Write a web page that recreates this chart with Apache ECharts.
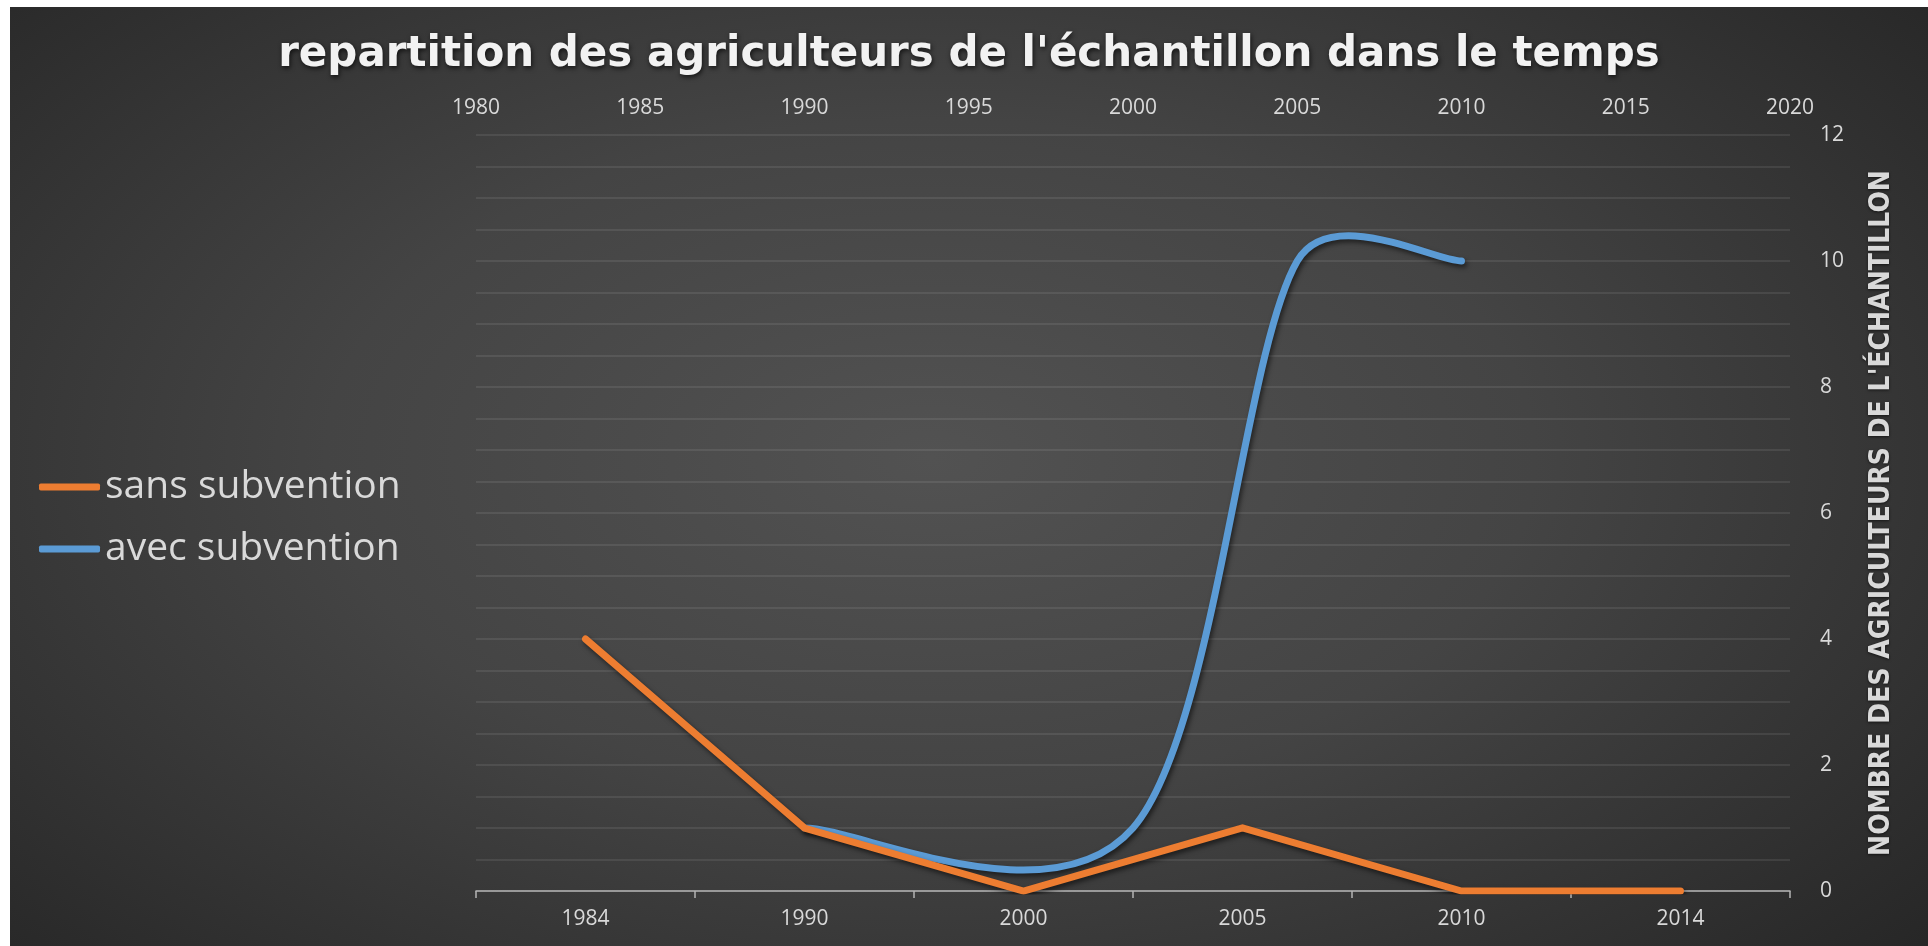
<!DOCTYPE html>
<html><head><meta charset="utf-8">
<script src="https://cdn.jsdelivr.net/npm/echarts@6/dist/echarts.min.js"></script>
<style>
html,body{margin:0;padding:0;background:#ffffff;width:1928px;height:946px;overflow:hidden;}
#chart{position:absolute;left:10px;top:7px;width:1918px;height:939px;
background:radial-gradient(ellipse 70% 80% at 48% 48%, #525252 0%, #444444 45%, #2e2e2e 85%, #262626 100%);}
</style></head><body><div id="chart"></div>
<script>
// ---- data ----
var titleText = "repartition des agriculteurs de l'échantillon dans le temps";
var yAxisName = "NOMBRE DES AGRICULTEURS DE L'ÉCHANTILLON";
var categories = ['1984', '1990', '2000', '2005', '2010', '2014'];
var sansSubvention = [4, 1, 0, 1, 0, 0];
var avecYears = [1990, 2000, 2005, 2010];
var avecValues = [1, 1, 10, 10];
var topAxisMin = 1980, topAxisMax = 2020, topAxisStep = 5;
var yMin = 0, yMax = 12, yStep = 2;

var ORANGE = '#ED7D31', BLUE = '#5B9BD5';
var LABEL = '#d9d9d9';
var GRID = 'rgba(255,255,255,0.11)';

// Excel-like smoothed path through points given in pixels
function smoothPath(pts) {
  var d = 'M' + pts[0][0] + ' ' + pts[0][1];
  for (var i = 0; i < pts.length - 1; i++) {
    var p0 = pts[i - 1] || pts[i], p1 = pts[i], p2 = pts[i + 1], p3 = pts[i + 2] || pts[i + 1];
    var seg = Math.hypot(p2[0] - p1[0], p2[1] - p1[1]);
    var lim = seg * 0.4;
    var a1 = [(p2[0] - p0[0]) / 6, (p2[1] - p0[1]) / 6];
    var a2 = [(p3[0] - p1[0]) / 6, (p3[1] - p1[1]) / 6];
    var l1 = Math.hypot(a1[0], a1[1]), l2 = Math.hypot(a2[0], a2[1]);
    if (l1 > lim) { a1 = [a1[0] * lim / l1, a1[1] * lim / l1]; }
    if (l2 > lim) { a2 = [a2[0] * lim / l2, a2[1] * lim / l2]; }
    d += ' C' + (p1[0] + a1[0]) + ' ' + (p1[1] + a1[1]) + ' ' +
         (p2[0] - a2[0]) + ' ' + (p2[1] - a2[1]) + ' ' + p2[0] + ' ' + p2[1];
  }
  return d;
}

var chart = echarts.init(document.getElementById('chart'), null, {renderer: 'canvas'});
var option = {
  animation: false,
  backgroundColor: 'transparent',
  title: {
    text: titleText,
    left: 'center',
    top: 22,
    textStyle: {
      color: '#f2f2f2', fontSize: 42, fontWeight: 'bold', fontFamily: 'DejaVu Sans',
      textShadowColor: 'rgba(0,0,0,0.7)', textShadowBlur: 5, textShadowOffsetX: 1, textShadowOffsetY: 2
    }
  },
  legend: {
    orient: 'vertical',
    left: 24,
    top: 454,
    itemWidth: 61,
    itemHeight: 7,
    itemGap: 20,
    data: [{name: 'sans subvention', icon: 'roundRect'}, {name: 'avec subvention', icon: 'roundRect'}],
    textStyle: {color: LABEL, fontSize: 39, fontFamily: 'Open Sans', lineHeight: 42}
  },
  grid: {left: 466, right: 138, top: 128, bottom: 55},
  xAxis: [
    {
      type: 'category',
      position: 'bottom',
      data: categories,
      boundaryGap: true,
      axisLine: {show: true, lineStyle: {color: '#b4b4b4', width: 1.5}},
      axisTick: {show: true, length: 7, lineStyle: {color: '#b4b4b4', width: 1.5}},
      axisLabel: {color: LABEL, fontSize: 21, fontFamily: 'Open Sans', margin: 18, interval: 0},
      splitLine: {show: false}
    },
    {
      type: 'value',
      position: 'top',
      min: topAxisMin, max: topAxisMax, interval: topAxisStep,
      axisLine: {show: false},
      axisTick: {show: false},
      splitLine: {show: false},
      axisLabel: {color: LABEL, fontSize: 21, fontFamily: 'Open Sans', margin: 16,
        formatter: function (v) { return String(v); }}
    }
  ],
  yAxis: [{
    type: 'value',
    position: 'right',
    min: yMin, max: yMax, interval: yStep,
    name: yAxisName,
    nameLocation: 'middle',
    nameRotate: 90,
    nameGap: 78,
    nameTextStyle: {
      color: LABEL, fontSize: 28, fontWeight: 'bold',
      fontFamily: "'DejaVu Sans Condensed', 'Liberation Sans Narrow', sans-serif",
      textShadowColor: 'rgba(0,0,0,0.6)', textShadowBlur: 3, textShadowOffsetY: 1
    },
    axisLine: {show: false},
    axisTick: {show: false},
    axisLabel: {color: LABEL, fontSize: 21, fontFamily: 'Open Sans', margin: 30},
    splitLine: {show: true, lineStyle: {color: GRID, width: 1.5}},
    minorTick: {show: false, splitNumber: 4},
    minorSplitLine: {show: true, lineStyle: {color: GRID, width: 1.5}}
  }],
  series: [
    {
      name: 'sans subvention',
      type: 'line',
      xAxisIndex: 0, yAxisIndex: 0,
      data: sansSubvention,
      symbol: 'none',
      color: ORANGE,
      lineStyle: {
        color: ORANGE, width: 7, cap: 'round', join: 'miter',
        shadowColor: 'rgba(0,0,0,0.55)', shadowBlur: 5, shadowOffsetX: 2, shadowOffsetY: 3
      }
    },
    {
      name: 'avec subvention',
      type: 'custom',
      coordinateSystem: 'cartesian2d',
      xAxisIndex: 1, yAxisIndex: 0,
      itemStyle: {color: BLUE},
      encode: {x: 0, y: 1},
      data: avecYears.map(function (yr, i) { return [yr, avecValues[i]]; }),
      renderItem: function (params, api) {
        if (params.dataIndex !== 0) { return {type: 'group', children: []}; }
        var pts = avecYears.map(function (yr, i) { return api.coord([yr, avecValues[i]]); });
        return {
          type: 'path',
          shape: {pathData: smoothPath(pts)},
          style: {
            fill: 'none', stroke: BLUE, lineWidth: 7, lineCap: 'round', lineJoin: 'round',
            shadowColor: 'rgba(0,0,0,0.55)', shadowBlur: 5, shadowOffsetX: 2, shadowOffsetY: 3
          }
        };
      }
    }
  ]
};
chart.setOption(option);
</script></body></html>
